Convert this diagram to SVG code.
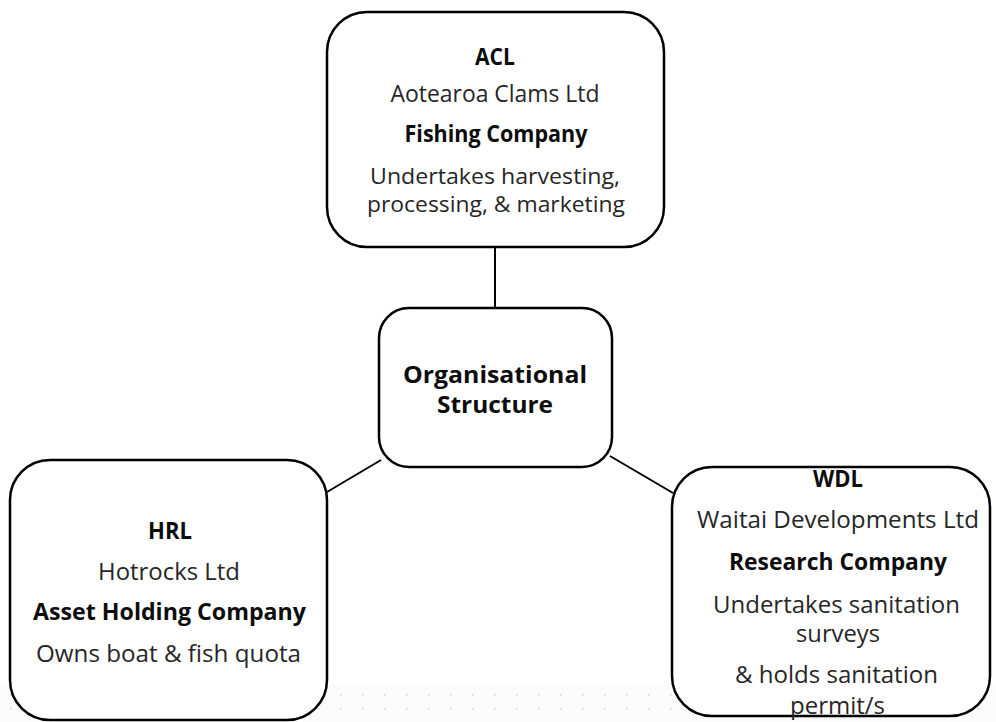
<svg xmlns="http://www.w3.org/2000/svg" width="996" height="722" viewBox="0 0 996 722">
<defs>
<pattern id="dots" x="0" y="0" width="22" height="14" patternUnits="userSpaceOnUse">
<rect x="10" y="8" width="1.5" height="1.5" fill="#cfcfcf"/>
</pattern>
</defs>
<style>
.box{fill:#fff;stroke:#000;stroke-width:2.5}
.conn{stroke:#000;stroke-width:2;fill:none}
text{font-family:"Open Sans","Noto Sans",sans-serif;font-size:23px;fill:#262626;text-anchor:middle}
.b{font-weight:bold;fill:#0d0d0d}
.big{font-size:24px}
.tight{font-size:21px}
</style>
<rect width="996" height="722" fill="#fff"/>
<rect x="0" y="684" width="996" height="38" fill="#fbfbfb"/>
<rect x="0" y="684" width="996" height="38" fill="url(#dots)"/>
<g id="connectors">
<line class="conn" x1="495" y1="247" x2="495" y2="308"/>
<line class="conn" x1="327" y1="492" x2="381" y2="460"/>
<line class="conn" x1="610" y1="456" x2="673" y2="493"/>
</g>
<g id="acl">
<rect class="box" x="327" y="12" width="337" height="235" rx="40"/>
<text class="b" x="495" y="65" textLength="40" lengthAdjust="spacingAndGlyphs">ACL</text>
<text x="495" y="102" textLength="209" lengthAdjust="spacingAndGlyphs">Aotearoa Clams Ltd</text>
<text class="b" x="496" y="142" textLength="183" lengthAdjust="spacingAndGlyphs">Fishing Company</text>
<text class="tight" x="495" y="184" textLength="250" lengthAdjust="spacingAndGlyphs">Undertakes harvesting,</text>
<text class="tight" x="496" y="212" textLength="258" lengthAdjust="spacingAndGlyphs">processing, &amp; marketing</text>
</g>
<g id="org">
<rect class="box" x="379" y="308" width="233" height="159" rx="30"/>
<text class="b big" x="495" y="383" textLength="184" lengthAdjust="spacingAndGlyphs">Organisational</text>
<text class="b big" x="495" y="413" textLength="116" lengthAdjust="spacingAndGlyphs">Structure</text>
</g>
<g id="hrl">
<rect class="box" x="10" y="460" width="317" height="260" rx="40"/>
<text class="b" x="170" y="539" textLength="44" lengthAdjust="spacingAndGlyphs">HRL</text>
<text x="169" y="580" textLength="142" lengthAdjust="spacingAndGlyphs">Hotrocks Ltd</text>
<text class="b" x="169.5" y="620" textLength="273" lengthAdjust="spacingAndGlyphs">Asset Holding Company</text>
<text x="168.5" y="662" textLength="265" lengthAdjust="spacingAndGlyphs">Owns boat &amp; fish quota</text>
</g>
<g id="wdl">
<rect class="box" x="672" y="467" width="318" height="249" rx="40"/>
<text class="b" x="838" y="487" textLength="50" lengthAdjust="spacingAndGlyphs">WDL</text>
<text x="838" y="528" textLength="282" lengthAdjust="spacingAndGlyphs">Waitai Developments Ltd</text>
<text class="b" x="838" y="570" textLength="218" lengthAdjust="spacingAndGlyphs">Research Company</text>
<text x="836.5" y="613" textLength="247" lengthAdjust="spacingAndGlyphs">Undertakes sanitation</text>
<text x="838" y="642" textLength="84" lengthAdjust="spacingAndGlyphs">surveys</text>
<text x="836.5" y="683" textLength="203" lengthAdjust="spacingAndGlyphs">&amp; holds sanitation</text>
<text x="837.5" y="714" textLength="95" lengthAdjust="spacingAndGlyphs">permit/s</text>
</g>
</svg>
